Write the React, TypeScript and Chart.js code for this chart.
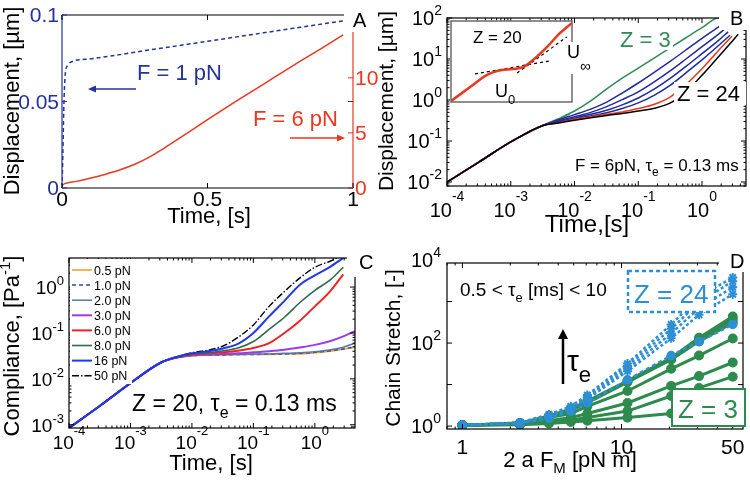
import React, { useEffect, useRef } from 'react';
import { Chart, registerables } from 'chart.js';

Chart.register(...registerables);

const W = 750;
const H = 482;
const FF = '"Liberation Sans", Arial, Helvetica, sans-serif';

// ---------- Panel A data ----------
const aBlueT = [0, 0.003, 0.006, 0.009, 0.012, 0.02, 0.033, 0.1, 0.3, 0.5, 0.7, 0.97];
const aBlueU = [0, 0.02, 0.045, 0.06, 0.067, 0.071, 0.073, 0.0747, 0.0798, 0.0848, 0.0899, 0.0967];
const aRedT = [0, 0.01, 0.05, 0.1, 0.15, 0.2, 0.25, 0.3, 0.35, 0.4, 0.5, 0.6, 0.7, 0.8, 0.9, 0.966];
const aRedU = [0.25, 0.4, 0.6, 0.9, 1.25, 1.65, 2.15, 2.8, 3.6, 4.45, 6.2, 7.9, 9.55, 11.2, 12.8, 13.9];
const aXTicks = [0, 0.5, 1];
const aXLabels = ['0', '0.5', '1'];
const aLeftTicks = [0, 0.05, 0.1];
const aLeftLabels = ['0', '0.05', '0.1'];
const aRightTicks = [0, 5, 10];
const aRightLabels = ['0', '5', '10'];

// ---------- Panel B data ----------
const tB = [0.0001, 0.00032, 0.001, 0.0032, 0.0056, 0.01, 0.018, 0.032, 0.056, 0.1, 0.18, 0.32, 0.56, 1.0, 1.8];
const bZ3 = [0.01, 0.031, 0.095, 0.24, 0.35, 0.54, 0.95, 1.86, 3.4, 6.0, 10.7, 19, 33, 58, 100];
const bBlue1 = [0.01, 0.031, 0.095, 0.24, 0.33, 0.44, 0.6, 0.89, 1.48, 2.6, 4.8, 8.9, 16.6, 32, 60];
const bBlue2 = [0.01, 0.031, 0.095, 0.24, 0.31, 0.39, 0.5, 0.69, 1.02, 1.58, 2.8, 5.2, 10, 20, 40];
const bBlue3 = [0.01, 0.031, 0.095, 0.24, 0.295, 0.36, 0.45, 0.56, 0.76, 1.12, 1.86, 3.4, 6.6, 13.5, 28];
const bBlue4 = [0.01, 0.031, 0.095, 0.24, 0.29, 0.35, 0.41, 0.49, 0.62, 0.85, 1.32, 2.3, 4.6, 9.5, 21];
const bRed = [0.01, 0.031, 0.095, 0.24, 0.28, 0.34, 0.39, 0.45, 0.51, 0.62, 0.79, 1.2, 2.4, 5.8, 16];
const bZ24 = [0.01, 0.031, 0.095, 0.24, 0.275, 0.32, 0.37, 0.42, 0.47, 0.54, 0.63, 0.85, 1.58, 4.0, 11.2];
const bEndT = [1.86, 2.14, 2.34, 2.57, 2.75, 2.95, 3.7];
const bEndU = [100, 72, 56, 46, 38, 36, 40];
const bXExp = [-4, -3, -2, -1, 0];
const bYExp = [-2, -1, 0, 1, 2];

// inset (log10 time, log10 displacement, arbitrary offsets)
const inX = [-4.0, -3.21, -2.51, -2.06, -1.44, -1.02, -0.61, -0.03, 0.5, 1.0];
const inY = [-0.97, -0.52, -0.13, 0.0, 0.06, 0.12, 0.35, 0.77, 1.21, 1.54];
const inU0X = [-3.01, 0.09];
const inU0Y = [-0.1, 0.32];
const inUinfX = [-1.27, 0.79];
const inUinfY = [-0.07, 1.09];

// ---------- Panel C data ----------
const tC = [0.0001, 0.00032, 0.001, 0.0032, 0.0056, 0.01, 0.018, 0.032, 0.056, 0.1, 0.18, 0.32, 0.56, 1.0, 1.8, 2.9, 4.5];
const c05 = [0.00085, 0.0026, 0.0081, 0.023, 0.029, 0.032, 0.033, 0.033, 0.034, 0.034, 0.034, 0.035, 0.035, 0.037, 0.04, 0.044, 0.049];
const c10 = [0.00085, 0.0026, 0.0081, 0.023, 0.029, 0.032, 0.033, 0.033, 0.034, 0.034, 0.035, 0.035, 0.036, 0.038, 0.041, 0.045, 0.05];
const c20 = [0.00085, 0.0026, 0.0081, 0.023, 0.029, 0.032, 0.033, 0.034, 0.034, 0.035, 0.035, 0.036, 0.037, 0.039, 0.043, 0.049, 0.06];
const c30 = [0.00085, 0.0026, 0.0081, 0.023, 0.029, 0.033, 0.034, 0.035, 0.036, 0.038, 0.04, 0.043, 0.048, 0.055, 0.067, 0.084, 0.11];
const c60 = [0.00085, 0.0026, 0.0081, 0.023, 0.029, 0.034, 0.036, 0.038, 0.041, 0.047, 0.06, 0.1, 0.18, 0.38, 0.83, 1.9, null];
const c80 = [0.00085, 0.0026, 0.0081, 0.023, 0.03, 0.035, 0.037, 0.041, 0.047, 0.065, 0.12, 0.22, 0.45, 0.85, 1.45, 2.7, null];
const c16 = [0.00085, 0.0026, 0.0081, 0.023, 0.03, 0.036, 0.04, 0.046, 0.058, 0.1, 0.23, 0.5, 1.1, 1.8, 2.8, 4.3, null];
const c50 = [0.00085, 0.0026, 0.0081, 0.023, 0.03, 0.037, 0.042, 0.052, 0.08, 0.15, 0.38, 0.8, 1.55, 2.7, 3.7, 5.0, null];
const cLabels = ['0.5 pN', '1.0 pN', '2.0 pN', '3.0 pN', '6.0 pN', '8.0 pN', '16 pN', '50 pN'];
const cXExp = [-4, -3, -2, -1, 0];
const cYExp = [-3, -2, -1, 0];

// ---------- Panel D data ----------
const xD = [1, 2.3, 3.5, 4.8, 6.1, 10.9, 20.5, 30.7, 50];
const dG1 = [1.05, 1.18, 1.75, 2.6, 4.0, 12.3, 44, 135, 436];
const dG2 = [1.05, 1.17, 1.7, 2.5, 3.8, 12, 42, 125, 372];
const dG3 = [1.05, 1.16, 1.65, 2.4, 3.6, 11.5, 40, 110, 309];
const dG4 = [1.05, 1.15, 1.6, 2.0, 3.0, 7, 24, 50, 129];
const dG5 = [1.05, 1.12, 1.35, 1.6, 2.0, 3.6, 9.3, 16, 34];
const dG6 = [1.05, 1.1, 1.25, 1.4, 1.6, 2.3, 5.3, 8.3, 15.5];
const dG7 = [1.05, 1.08, 1.15, 1.25, 1.35, 1.6, 2.0, 2.6, 3.5];
const dB1 = [1.05, 1.22, 1.9, 3.0, 5.6, 32, 280, 1300, 3800];
const dB2 = [1.05, 1.21, 1.8, 2.8, 5.2, 28, 220, 950, 3100];
const dB3 = [1.05, 1.2, 1.7, 2.7, 4.8, 24, 170, 700, 2200];
const dB4 = [1.05, 1.19, 1.65, 2.6, 4.5, 21, 130, 480, 1500];
const dB5 = [1.05, 1.15, 1.55, 2.3, 3.6, 13, 50, 108, 282];
const dXTicks = [1, 10, 50];
const dXLabels = ['1', '10', '50'];
const dYExp = [0, 2, 4];

// ---------- colours ----------
const BLUE_A = '#25329c';
const RED = '#e8381f';
const GREEN_B = '#2e8b57';
const NAVY = '#1f2a9e';
const G_D = '#2e8b4e';
const B_D = '#2d8fd5';
const cColors = ['#f0a030', '#34459f', '#5a78ad', '#9b3bea', '#ee2424', '#2e6b4c', '#1f38ee', '#000000'];
const cDash = [[], [4, 3], [], [], [], [], [], [7, 2, 1.5, 2]];
const cWidth = [1.6, 1.5, 1.5, 2, 2, 1.6, 2, 1.4];

// ---------- helpers ----------
type Part = { t: string; s: number; dy?: number };

function rich(ctx: any, parts: Part[], x: number, y: number, align: string, color: string, rot = 0) {
  ctx.save();
  ctx.translate(x, y);
  if (rot) ctx.rotate(rot);
  ctx.fillStyle = color;
  ctx.textBaseline = 'alphabetic';
  ctx.textAlign = 'left';
  const ws = parts.map((p) => {
    ctx.font = `${p.s}px ${FF}`;
    return ctx.measureText(p.t).width;
  });
  const total = ws.reduce((a, b) => a + b, 0);
  let cx = align === 'center' ? -total / 2 : align === 'right' ? -total : 0;
  parts.forEach((p, i) => {
    ctx.font = `${p.s}px ${FF}`;
    ctx.fillText(p.t, cx, p.dy || 0);
    cx += ws[i];
  });
  ctx.restore();
  return total;
}

function pow10(e: number, s: number, sdy: number): Part[] {
  return [{ t: '10', s }, { t: String(e), s: Math.round(s * 0.68), dy: sdy }];
}

function seg(ctx: any, x1: number, y1: number, x2: number, y2: number, color: string, lw = 1, dash: number[] = []) {
  ctx.save();
  ctx.strokeStyle = color;
  ctx.lineWidth = lw;
  ctx.setLineDash(dash);
  ctx.beginPath();
  ctx.moveTo(x1, y1);
  ctx.lineTo(x2, y2);
  ctx.stroke();
  ctx.restore();
}

function arrow(ctx: any, x1: number, y1: number, x2: number, y2: number, color: string, lw: number, hl: number, hw: number) {
  const ang = Math.atan2(y2 - y1, x2 - x1);
  const bx = x2 - hl * Math.cos(ang);
  const by = y2 - hl * Math.sin(ang);
  seg(ctx, x1, y1, bx, by, color, lw);
  ctx.save();
  ctx.fillStyle = color;
  ctx.beginPath();
  ctx.moveTo(x2, y2);
  ctx.lineTo(bx + hw * Math.sin(ang), by - hw * Math.cos(ang));
  ctx.lineTo(bx - hw * Math.sin(ang), by + hw * Math.cos(ang));
  ctx.closePath();
  ctx.fill();
  ctx.restore();
}

function box(ctx: any, x: number, y: number, w: number, h: number, fill: string | null, stroke: string | null, lw = 1, dash: number[] = []) {
  ctx.save();
  if (fill) {
    ctx.fillStyle = fill;
    ctx.fillRect(x, y, w, h);
  }
  if (stroke) {
    ctx.strokeStyle = stroke;
    ctx.lineWidth = lw;
    ctx.setLineDash(dash);
    ctx.strokeRect(x, y, w, h);
  }
  ctx.restore();
}

function logSet(min: number, max: number) {
  const majors: number[] = [];
  const minors: number[] = [];
  for (let d = Math.floor(Math.log10(min)); d <= Math.ceil(Math.log10(max)); d++) {
    const b = Math.pow(10, d);
    if (b >= min * 0.999 && b <= max * 1.001) majors.push(b);
    for (let k = 2; k < 10; k++) {
      const v = k * b;
      if (v >= min && v <= max) minors.push(v);
    }
  }
  return { majors, minors };
}

function xTicks(ctx: any, sc: any, a: any, vals: number[], len: number, color = '#000') {
  vals.forEach((v) => {
    const p = sc.getPixelForValue(v);
    seg(ctx, p, a.bottom, p, a.bottom - len, color, 1);
    seg(ctx, p, a.top, p, a.top + len, color, 1);
  });
}

function yTicks(ctx: any, sc: any, a: any, vals: number[], len: number, color = '#000', sides = 'both') {
  vals.forEach((v) => {
    const p = sc.getPixelForValue(v);
    if (sides !== 'right') seg(ctx, a.left, p, a.left + len, p, color, 1);
    if (sides !== 'left') seg(ctx, a.right, p, a.right - len, p, color, 1);
  });
}

function frame(ctx: any, a: any, color = '#000', lw = 1.2) {
  box(ctx, a.left, a.top, a.right - a.left, a.bottom - a.top, null, color, lw);
}

function baseOptions(pad: any) {
  return {
    responsive: false,
    maintainAspectRatio: false,
    animation: false,
    devicePixelRatio: 1,
    events: [],
    layout: { padding: pad },
    plugins: { legend: { display: false }, tooltip: { enabled: false } },
  } as any;
}

function pts(xs: number[], ys: (number | null)[]) {
  const out: any[] = [];
  xs.forEach((x, i) => {
    if (ys[i] !== null && ys[i] !== undefined) out.push({ x, y: ys[i] });
  });
  return out;
}

// ---------- Panel A ----------
function buildA(cv: HTMLCanvasElement) {
  return new Chart(cv, {
    type: 'line',
    data: {
      datasets: [
        { data: pts(aBlueT, aBlueU), borderColor: BLUE_A, borderWidth: 1.5, borderDash: [4, 3], pointRadius: 0, yAxisID: 'y', cubicInterpolationMode: 'monotone' },
        { data: pts(aRedT, aRedU), borderColor: RED, borderWidth: 1.5, pointRadius: 0, yAxisID: 'y2', cubicInterpolationMode: 'monotone' },
      ],
    } as any,
    options: {
      ...baseOptions({ left: 62, top: 15, right: W - 353, bottom: H - 188 }),
      scales: {
        x: { type: 'linear', min: 0, max: 1, display: false },
        y: { type: 'linear', min: 0, max: 0.1, display: false },
        y2: { type: 'linear', min: 0, max: 15.7, display: false, position: 'right' },
      },
    },
    plugins: [
      {
        id: 'decoA',
        afterDatasetsDraw(chart: any) {
          const ctx = chart.ctx;
          const a = chart.chartArea;
          const { x, y, y2 } = chart.scales;
          seg(ctx, a.left, a.bottom, a.right, a.bottom, '#000', 1.2);
          seg(ctx, a.left, a.top, a.right, a.top, '#000', 1.2);
          seg(ctx, a.left, a.top, a.left, a.bottom, BLUE_A, 1.2);
          seg(ctx, a.right, a.top, a.right, a.bottom, RED, 1.2);
          xTicks(ctx, x, a, aXTicks, 5);
          yTicks(ctx, y, a, aLeftTicks, 5, BLUE_A, 'both');
          yTicks(ctx, y2, a, aRightTicks, 5, RED, 'right');
          aXTicks.forEach((v, i) => rich(ctx, [{ t: aXLabels[i], s: 21 }], x.getPixelForValue(v), 206, 'center', '#000'));
          aLeftTicks.forEach((v, i) => rich(ctx, [{ t: aLeftLabels[i], s: 21 }], a.left - 3, y.getPixelForValue(v) + 7, 'right', BLUE_A));
          aRightTicks.forEach((v, i) => rich(ctx, [{ t: aRightLabels[i], s: 21 }], a.right + 2, y2.getPixelForValue(v) + 7, 'left', RED));
          rich(ctx, [{ t: 'Displacement, [µm]', s: 22 }], 19, 101, 'center', '#000', -Math.PI / 2);
          rich(ctx, [{ t: 'Time, [s]', s: 22 }], 209, 223, 'center', '#000');
          rich(ctx, [{ t: 'F = 1 pN', s: 22 }], 137, 80, 'left', BLUE_A);
          arrow(ctx, 136, 89, 88, 89, BLUE_A, 1.5, 8, 3.5);
          rich(ctx, [{ t: 'F = 6 pN', s: 22 }], 253, 126, 'left', RED);
          arrow(ctx, 290, 138, 345, 138, RED, 1.5, 8, 3.5);
          box(ctx, 344, 0, 31, 32, '#fff', null);
          rich(ctx, [{ t: 'A', s: 20 }], 353, 27, 'left', '#000');
        },
      } as any,
    ],
  });
}

// ---------- Panel B ----------
function buildB(cv: HTMLCanvasElement) {
  const series = [bZ3, bBlue1, bBlue2, bBlue3, bBlue4, bRed, bZ24];
  const colors = [GREEN_B, NAVY, NAVY, NAVY, NAVY, RED, '#000'];
  const orders = [3, 2, 2, 2, 2, 1, 0];
  const datasets = series.map((s, k) => ({
    data: [...pts(tB, s), { x: bEndT[k], y: bEndU[k] }],
    borderColor: colors[k],
    borderWidth: 1.5,
    pointRadius: 0,
    order: orders[k],
    cubicInterpolationMode: 'monotone',
  }));
  return new Chart(cv, {
    type: 'line',
    data: { datasets } as any,
    options: {
      ...baseOptions({ left: 447, top: 18, right: W - 746, bottom: H - 186 }),
      scales: {
        x: { type: 'logarithmic', min: 0.0001, max: 4.9, display: false },
        y: { type: 'logarithmic', min: 0.008, max: 100, display: false },
      },
    },
    plugins: [
      {
        id: 'decoB',
        afterDatasetsDraw(chart: any) {
          const ctx = chart.ctx;
          const a = chart.chartArea;
          const { x, y } = chart.scales;
          frame(ctx, a);
          const lx = logSet(0.0001, 4.9);
          const ly = logSet(0.008, 100);
          xTicks(ctx, x, a, lx.majors, 5);
          xTicks(ctx, x, a, lx.minors, 2.5);
          yTicks(ctx, y, a, ly.majors, 5);
          yTicks(ctx, y, a, ly.minors, 2.5);
          bXExp.forEach((e) => rich(ctx, pow10(e, 20, -16), x.getPixelForValue(Math.pow(10, e)), 217, 'center', '#000'));
          bYExp.forEach((e) => rich(ctx, pow10(e, 20, -10), a.left - 5, y.getPixelForValue(Math.pow(10, e)) + 7, 'right', '#000'));
          rich(ctx, [{ t: 'Displacement, [µm]', s: 21 }], 393, 101, 'center', '#000', -Math.PI / 2);
          rich(ctx, [{ t: 'Time,[s]', s: 24 }], 587, 232, 'center', '#000');
          box(ctx, 617, 27, 56, 23, '#fff', null);
          rich(ctx, [{ t: 'Z = 3', s: 22 }], 620, 47, 'left', GREEN_B);
          box(ctx, 674, 82, 72, 23, '#fff', null);
          rich(ctx, [{ t: 'Z = 24', s: 22 }], 677, 101, 'left', '#000');
          rich(ctx, [{ t: 'F = 6pN, τ', s: 17 }, { t: 'e', s: 12, dy: 5 }, { t: ' = 0.13 ms', s: 17 }], 575, 171, 'left', '#000');
          box(ctx, 719, 0, 31, 30, '#fff', null);
          rich(ctx, [{ t: 'B', s: 20 }], 730, 25, 'left', '#000');
        },
      } as any,
    ],
  });
}

function buildInset(cv: HTMLCanvasElement) {
  return new Chart(cv, {
    type: 'line',
    data: {
      datasets: [
        { data: pts(inX, inY), borderColor: RED, borderWidth: 2.5, pointRadius: 0, cubicInterpolationMode: 'monotone', order: 0 },
        { data: pts(inU0X, inU0Y), borderColor: '#000', borderWidth: 1.2, borderDash: [3, 3], pointRadius: 0, order: 1 },
        { data: pts(inUinfX, inUinfY), borderColor: '#000', borderWidth: 1.2, borderDash: [3, 3], pointRadius: 0, order: 1 },
      ],
    } as any,
    options: {
      ...baseOptions({ left: 451, top: 21, right: W - 572, bottom: H - 102 }),
      scales: {
        x: { type: 'linear', min: -4, max: 1, display: false },
        y: { type: 'linear', min: -1, max: 1.6, display: false },
      },
    },
    plugins: [
      {
        id: 'insetBg',
        beforeDatasetsDraw(chart: any) {
          const a = chart.chartArea;
          box(chart.ctx, a.left - 1, a.top, a.right - a.left + 1, a.bottom - a.top, '#fff', null);
        },
        afterDatasetsDraw(chart: any) {
          const ctx = chart.ctx;
          const a = chart.chartArea;
          frame(ctx, a, '#6b6b6b', 1.5);
          rich(ctx, [{ t: 'Z = 20', s: 17 }], 473, 43, 'left', '#000');
          rich(ctx, [{ t: 'U', s: 18 }, { t: '0', s: 13, dy: 7 }], 495, 97, 'left', '#000');
          box(ctx, 565, 42, 27, 32, '#fff', null);
          rich(ctx, [{ t: 'U', s: 18 }, { t: '∞', s: 15, dy: 13 }], 567, 58, 'left', '#000');
        },
      } as any,
    ],
  });
}

// ---------- Panel C ----------
function buildC(cv: HTMLCanvasElement) {
  const series = [c05, c10, c20, c30, c60, c80, c16, c50];
  const orders = [6, 5, 4, 3, 2, 1, 0, 1];
  const datasets = series.map((s, k) => ({
    data: pts(tC, s),
    borderColor: cColors[k],
    borderWidth: cWidth[k],
    borderDash: cDash[k],
    pointRadius: 0,
    order: orders[k],
    cubicInterpolationMode: 'monotone',
  }));
  return new Chart(cv, {
    type: 'line',
    data: { datasets } as any,
    options: {
      ...baseOptions({ left: 69, top: 258, right: W - 355, bottom: H - 428 }),
      scales: {
        x: { type: 'logarithmic', min: 0.0001, max: 4.5, display: false },
        y: { type: 'logarithmic', min: 0.00085, max: 4.3, display: false },
      },
    },
    plugins: [
      {
        id: 'decoC',
        afterDatasetsDraw(chart: any) {
          const ctx = chart.ctx;
          const a = chart.chartArea;
          const { x, y } = chart.scales;
          frame(ctx, a);
          const lx = logSet(0.0001, 4.5);
          const ly = logSet(0.00085, 4.3);
          xTicks(ctx, x, a, lx.majors, 5);
          xTicks(ctx, x, a, lx.minors, 2.5);
          yTicks(ctx, y, a, ly.majors, 5);
          yTicks(ctx, y, a, ly.minors, 2.5);
          cXExp.forEach((e) => rich(ctx, pow10(e, 19, -14), x.getPixelForValue(Math.pow(10, e)), 449, 'center', '#000'));
          cYExp.forEach((e) => rich(ctx, pow10(e, 19, -9), a.left - 5, y.getPixelForValue(Math.pow(10, e)) + 7, 'right', '#000'));
          rich(ctx, [{ t: 'Compliance, [Pa', s: 22 }, { t: '-1', s: 15, dy: -9 }, { t: ']', s: 22 }], 19, 346, 'center', '#000', -Math.PI / 2);
          rich(ctx, [{ t: 'Time, [s]', s: 22 }], 211, 470, 'center', '#000');
          // legend
          box(ctx, 70, 259, 62, 125, '#fff', null);
          cLabels.forEach((lab, k) => {
            const ly0 = 270 + k * 15.1;
            seg(ctx, 72, ly0, 92, ly0, cColors[k], cWidth[k], cDash[k] as number[]);
            rich(ctx, [{ t: lab, s: 12.5 }], 94, ly0 + 4.5, 'left', '#000');
          });
          rich(ctx, [{ t: 'Z = 20, τ', s: 23 }, { t: 'e', s: 16, dy: 7 }, { t: ' = 0.13 ms', s: 23 }], 132, 411, 'left', '#000');
          box(ctx, 347, 241, 28, 36, '#fff', null);
          rich(ctx, [{ t: 'C', s: 20 }], 359, 269, 'left', '#000');
        },
      } as any,
    ],
  });
}

// ---------- Panel D ----------
function buildD(cv: HTMLCanvasElement) {
  const greens = [dG1, dG2, dG3, dG4, dG5, dG6, dG7].map((s) => ({
    data: pts(xD, s),
    borderColor: G_D,
    backgroundColor: G_D,
    pointBackgroundColor: G_D,
    pointBorderColor: G_D,
    borderWidth: 3,
    pointRadius: 3.5,
    order: 1,
  }));
  const blues = [dB1, dB2, dB3, dB4].map((s) => ({
    data: pts(xD, s),
    borderColor: B_D,
    backgroundColor: B_D,
    pointBorderColor: B_D,
    pointBackgroundColor: B_D,
    borderWidth: 2.5,
    borderDash: [3, 2.5],
    pointStyle: 'star',
    pointRadius: 4.5,
    pointBorderWidth: 2,
    order: 0,
  }));
  const blue5 = {
    data: pts(xD, dB5),
    borderColor: B_D,
    backgroundColor: B_D,
    pointBorderColor: B_D,
    pointBackgroundColor: B_D,
    borderWidth: 2.5,
    borderDash: [4, 3],
    pointRadius: 3.5,
    order: 0,
  };
  return new Chart(cv, {
    type: 'line',
    data: { datasets: [...greens, ...blues, blue5] } as any,
    options: {
      ...baseOptions({ left: 447, top: 263, right: W - 745, bottom: H - 429 }),
      scales: {
        x: { type: 'logarithmic', min: 0.8, max: 58, display: false },
        y: { type: 'logarithmic', min: 0.85, max: 8500, display: false },
      },
    },
    plugins: [
      {
        id: 'decoD',
        afterDatasetsDraw(chart: any) {
          const ctx = chart.ctx;
          const a = chart.chartArea;
          const { x, y } = chart.scales;
          frame(ctx, a);
          const lx = logSet(0.8, 58);
          const ly = logSet(0.85, 8500);
          xTicks(ctx, x, a, lx.majors, 5);
          xTicks(ctx, x, a, lx.minors, 2.5);
          yTicks(ctx, y, a, ly.majors, 5);
          dXTicks.forEach((v, i) => rich(ctx, [{ t: dXLabels[i], s: 21 }], x.getPixelForValue(v), 454, 'center', '#000'));
          dYExp.forEach((e) => rich(ctx, pow10(e, 20, -10), a.left - 6, y.getPixelForValue(Math.pow(10, e)) + 7, 'right', '#000'));
          rich(ctx, [{ t: 'Chain Stretch, [-]', s: 21 }], 400, 348, 'center', '#000', -Math.PI / 2);
          rich(ctx, [{ t: '2 a F', s: 22 }, { t: 'M', s: 15, dy: 6 }, { t: ' [pN m]', s: 22 }], 570, 467, 'center', '#000');
          rich(ctx, [{ t: '0.5 < τ', s: 19 }, { t: 'e', s: 13, dy: 6 }, { t: ' [ms] < 10', s: 19 }], 460, 296, 'left', '#000');
          box(ctx, 628, 271, 87, 41, '#fff', B_D, 2.5, [4, 3]);
          rich(ctx, [{ t: 'Z = 24', s: 26 }], 634, 303, 'left', B_D);
          box(ctx, 672, 389, 73, 37, '#fff', G_D, 2);
          rich(ctx, [{ t: 'Z = 3', s: 26 }], 678, 418, 'left', G_D);
          arrow(ctx, 563, 384, 563, 329, '#000', 2.5, 10, 5);
          rich(ctx, [{ t: 'τ', s: 30 }, { t: 'e', s: 22, dy: 11 }], 567, 371, 'left', '#000');
          box(ctx, 719, 241, 31, 31, '#fff', null);
          rich(ctx, [{ t: 'D', s: 20 }], 730, 268, 'left', '#000');
        },
      } as any,
    ],
  });
}

function ChartCanvas({ build }: { build: (c: HTMLCanvasElement) => Chart }) {
  const ref = useRef<HTMLCanvasElement>(null);
  useEffect(() => {
    const ch = build(ref.current as HTMLCanvasElement);
    return () => ch.destroy();
  }, [build]);
  return (
    <canvas
      ref={ref}
      width={W}
      height={H}
      style={{ position: 'absolute', left: 0, top: 0, width: W, height: H, display: 'block' }}
    />
  );
}

export default function App() {
  return (
    <div style={{ position: 'fixed', left: 0, top: 0, width: W, height: H, background: '#ffffff', overflow: 'hidden' }}>
      <ChartCanvas build={buildA} />
      <ChartCanvas build={buildB} />
      <ChartCanvas build={buildInset} />
      <ChartCanvas build={buildC} />
      <ChartCanvas build={buildD} />
    </div>
  );
}
